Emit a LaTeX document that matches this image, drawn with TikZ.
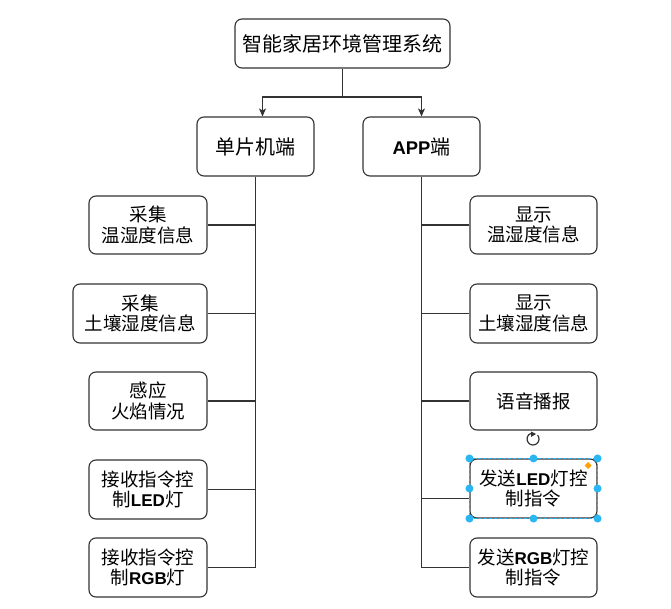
\documentclass[tikz,border=0pt]{standalone}
\usepackage{fontspec}
\setmainfont{Noto Sans CJK SC}
\newfontfamily\latfont[Scale=0.92]{Liberation Sans}
\newcommand\lb[1]{{\latfont\bfseries #1}}
\usetikzlibrary{arrows.meta}
\definecolor{edgecol}{HTML}{333333}
\definecolor{selblue}{HTML}{29B6F2}
\definecolor{selorange}{HTML}{FFA000}
\begin{document}
\begin{tikzpicture}[x=1pt,y=-1pt,
  box/.style={draw=edgecol, line width=1.1pt, rounded corners=7pt, align=center,
    inner sep=0pt, fill=white, font=\fontsize{18.5}{20.5}\selectfont},
  big/.style={box, font=\fontsize{20}{22}\selectfont},
  conn/.style={draw=edgecol, line width=1.1pt},
  arr/.style={conn, -{Stealth[length=8pt,width=7pt,inset=2pt]}},
  handle/.style={circle, fill=selblue, inner sep=0pt, minimum size=8pt}]
\useasboundingbox[fill=white] (0,0) rectangle (671,609);

\node[big, minimum width=215pt, minimum height=49pt] (top) at (342.5,43.5) {智能家居环境管理系统};
\node[big, minimum width=117pt, minimum height=59pt] (mcu) at (255.5,146.5) {单片机端};
\node[big, minimum width=117pt, minimum height=59pt] (app) at (421.5,146.5) {\lb{APP}端};

\node[box, minimum width=118pt, minimum height=58pt] (l1) at (148,225) {采集\\温湿度信息};
\node[box, minimum width=134pt, minimum height=59pt] (l2) at (140,313.5) {采集\\土壤湿度信息};
\node[box, minimum width=118pt, minimum height=58pt] (l3) at (148,401) {感应\\火焰情况};
\node[box, minimum width=118pt, minimum height=59pt] (l4) at (148,489.5) {接收指令控\\制\lb{LED}灯};
\node[box, minimum width=118pt, minimum height=59pt] (l5) at (148,567.5) {接收指令控\\制\lb{RGB}灯};

\node[box, minimum width=127pt, minimum height=58pt] (r1) at (533.5,225) {显示\\温湿度信息};
\node[box, minimum width=127pt, minimum height=59pt] (r2) at (533.5,313.5) {显示\\土壤湿度信息};
\node[box, minimum width=127pt, minimum height=58pt] (r3) at (533.5,401) {语音播报};
\node[box, minimum width=127pt, minimum height=59pt] (r4) at (533.5,488.5) {发送\lb{LED}灯控\\制指令};
\node[box, minimum width=127pt, minimum height=59pt] (r5) at (533.5,567.5) {发送\lb{RGB}灯控\\制指令};

% top connectors
\coordinate (j) at (top.south |- 0,97);
\draw[conn] (top.south) -- (j);
\draw[arr] (j) -| ([xshift=7pt]mcu.north);
\draw[arr] (j) -| (app.north);

% left trunk
\draw[conn] (mcu.south) |- (l5.east);
\foreach \n in {l1,l2,l3,l4}
  \draw[conn] (\n.east) -- (\n.east -| mcu.south);

% right trunk
\draw[conn] (app.south) |- (r5.west);
\foreach \n in {r1,r2,r3}
  \draw[conn] (\n.west) -- (\n.west -| app.south);
\draw[conn] ([yshift=-10pt]r4.west) -- ([yshift=-10pt]r4.west -| app.south);

% selection decoration on r4
\draw[selblue, line width=0.8pt, dash pattern=on 3pt off 2pt] (r4.north west) rectangle (r4.south east);
\foreach \a in {north west,north,north east,west,east,south west,south,south east}
  \node[handle] at (r4.\a) {};
\fill[selorange] (588,462) -- (591.5,465.5) -- (588,469) -- (584.5,465.5) -- cycle;
% rotate icon
\draw[edgecol, line width=1.2pt] (533,439) ++(40:6pt) arc[start angle=40, end angle=-250, radius=6pt];
\fill[edgecol] (531,431.5) -- (536,434) -- (531,437) -- cycle;
\end{tikzpicture}
\end{document}
